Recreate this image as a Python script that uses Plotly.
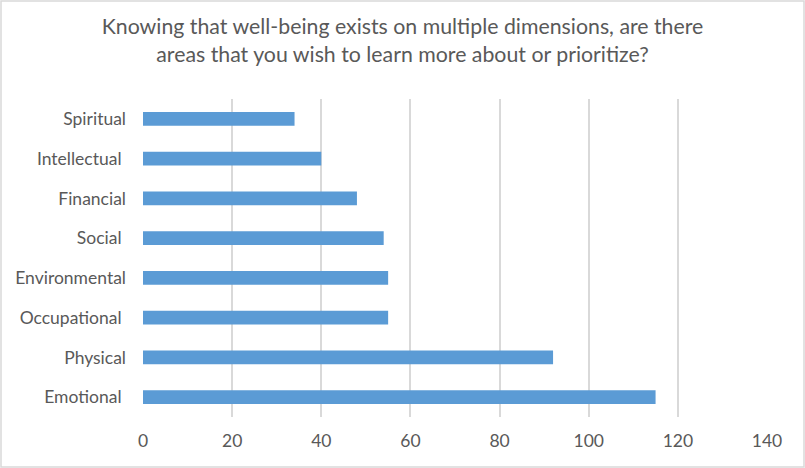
import plotly.graph_objects as go

categories = ["Emotional ", "Physical", "Occupational ", "Environmental", "Social ", "Financial", "Intellectual ", "Spiritual"]
values = [115, 92, 55, 55, 54, 48, 40, 34]
x_ticks = [0, 20, 40, 60, 80, 100, 120, 140]
title_text = "Knowing that well-being exists on multiple dimensions, are there<br>areas that you wish to learn more about or prioritize?"

W, H = 805, 468
ml, mr, mt, mb = 143, 38, 99, 51
pw, ph = W - ml - mr, H - mt - mb

fig = go.Figure(go.Bar(
    x=values, y=categories, orientation="h",
    marker=dict(color="#5b9bd5", line=dict(width=0)),
    width=0.35,
))

fig.update_layout(
    width=W, height=H,
    margin=dict(l=ml, r=mr, t=mt, b=mb, autoexpand=False),
    paper_bgcolor="white", plot_bgcolor="white",
    font=dict(family="Lato, Calibri, sans-serif", color="#595959", size=17.5),
    title=dict(text=title_text, x=0.5, xanchor="center", y=1 - 34 / H, yanchor="middle",
               font=dict(size=21.3, color="#595959")),
    showlegend=False,
    xaxis=dict(range=[0, 140], tickvals=x_ticks, showgrid=True, gridcolor="#d9d9d9", gridwidth=1.5,
               zeroline=False, showline=False, ticks="", tickfont=dict(size=17.5),
               ticklabelstandoff=11, fixedrange=True),
    yaxis=dict(showgrid=False, zeroline=False, showline=False, ticks="", ticklabelstandoff=16,
               tickfont=dict(size=17.5), categoryorder="array", categoryarray=categories),
    shapes=[dict(type="rect", xref="paper", yref="paper",
                 x0=(-ml + 1) / pw, x1=(pw + mr - 1) / pw,
                 y0=(-mb + 1) / ph, y1=(ph + mt - 1) / ph,
                 line=dict(color="#d9d9d9", width=1.5), fillcolor="rgba(0,0,0,0)", layer="below")],
)

fig.write_html("out.html", config={"displayModeBar": False},
               post_script="document.body.style.margin='0';")
